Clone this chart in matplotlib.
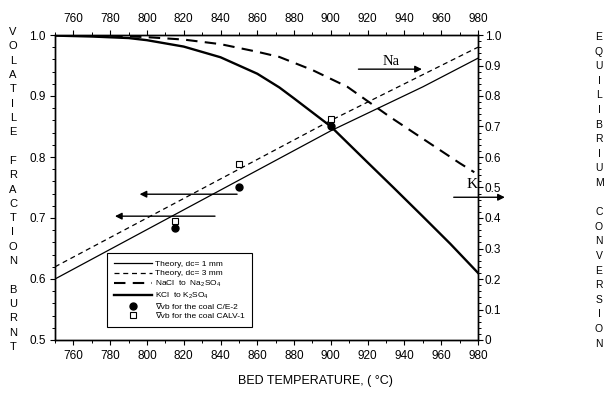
import matplotlib

matplotlib.use("Agg")
import matplotlib.pyplot as plt
from matplotlib.ticker import FuncFormatter, MultipleLocator

# theory curves, volatile fraction burnt (left axis)
temp_dc1 = [750, 800, 850, 900, 950, 980]
burnt_dc1 = [0.600, 0.681, 0.762, 0.843, 0.915, 0.962]
temp_dc3 = [750, 800, 850, 900, 950, 980]
burnt_dc3 = [0.620, 0.700, 0.780, 0.860, 0.935, 0.980]

# equilibrium conversion (right axis)
temp_na = [750, 780, 800, 820, 840, 860, 872, 890, 909, 932, 950, 970, 978]
conv_na = [1.0, 0.998, 0.993, 0.985, 0.970, 0.945, 0.928, 0.885, 0.830, 0.732, 0.660, 0.580, 0.550]
temp_k = [750, 770, 790, 800, 820, 840, 860, 872, 880, 900, 920, 934, 950, 965, 980]
conv_k = [0.998, 0.995, 0.990, 0.983, 0.962, 0.927, 0.873, 0.828, 0.792, 0.700, 0.582, 0.500, 0.405, 0.315, 0.220]

# measured points
temp_ce2 = [815, 850, 900]
burnt_ce2 = [0.684, 0.751, 0.851]
temp_calv = [815, 850, 900]
burnt_calv = [0.695, 0.789, 0.862]

# arrows (start temp, end temp, level on left axis)
left_arrows = [(849, 796, 0.739), (837, 782.6, 0.703)]
na_arrow = (915, 949.5, 0.944)
k_arrow = (966.8, 994.6, 0.734)

plt.rcParams["font.family"] = ["Liberation Sans", "DejaVu Sans"]
plt.rcParams["mathtext.default"] = "regular"

fig = plt.figure(figsize=(6.05, 3.98), dpi=100)
ax = fig.add_axes([55 / 605, 1 - 340 / 398, 423 / 605, 305 / 398])
ax2 = ax.twinx()

l1, = ax.plot(temp_dc1, burnt_dc1, color="black", lw=0.9, label="Theory, dc= 1 mm")
l2, = ax.plot(temp_dc3, burnt_dc3, color="black", lw=0.9, dashes=(4, 3), label="Theory, dc= 3 mm")
l3, = ax2.plot(temp_na, conv_na, color="black", lw=1.5, dashes=(5.5, 3.5), label="NaCl  to  Na$_2$SO$_4$")
l4, = ax2.plot(temp_k, conv_k, color="black", lw=1.7, label="KCl  to K$_2$SO$_4$")
p1, = ax.plot(temp_ce2, burnt_ce2, "o", color="black", ms=5, ls="none", label="∇vb for the coal C/E-2")
p2, = ax.plot(temp_calv, burnt_calv, "s", mfc="white", mec="black", mew=0.8, ms=5, ls="none",
              label="∇vb for the coal CALV-1")

arrow_kw = dict(arrowstyle="-|>", color="black", lw=1.0, mutation_scale=10, shrinkA=0, shrinkB=0)
for t0, t1, lev in left_arrows:
    ax.annotate("", xy=(t1, lev), xytext=(t0, lev), arrowprops=arrow_kw)
ax.annotate("", xy=(na_arrow[1], na_arrow[2]), xytext=(na_arrow[0], na_arrow[2]), arrowprops=arrow_kw)
ax.annotate("", xy=(k_arrow[1], k_arrow[2]), xytext=(k_arrow[0], k_arrow[2]), arrowprops=arrow_kw,
            annotation_clip=False)
ax.text(933, 0.957, "Na", family="Liberation Serif", fontsize=10.5, ha="center", va="center")
ax.text(977, 0.755, "K", family="Liberation Serif", fontsize=11, ha="center", va="center")

ax.set_xlim(750, 980)
ax.set_ylim(0.5, 1.0)
ax2.set_ylim(0, 1.0)
ax.xaxis.set_major_locator(MultipleLocator(20))
ax.xaxis.set_minor_locator(MultipleLocator(10))
ax.yaxis.set_major_locator(MultipleLocator(0.1))
ax.yaxis.set_minor_locator(MultipleLocator(0.02))
ax2.yaxis.set_major_locator(MultipleLocator(0.1))
ax2.yaxis.set_minor_locator(MultipleLocator(0.02))
ax2.yaxis.set_major_formatter(FuncFormatter(lambda v, p: "0" if abs(v) < 1e-9 else f"{v:.1f}"))

ax.tick_params(axis="x", which="both", top=True, labeltop=True, direction="out")
ax.tick_params(which="major", length=3.5, width=0.8, labelsize=8.5)
ax.tick_params(which="minor", length=2, width=0.7)
ax.tick_params(axis="x", which="major", pad=4)
ax.tick_params(axis="y", which="major", pad=3)
ax2.tick_params(which="major", length=3.5, width=0.8, labelsize=8.5, pad=1.5)
ax2.tick_params(which="minor", length=2, width=0.7)
for a in (ax, ax2):
    for s in a.spines.values():
        s.set_linewidth(1.0)

leg = ax2.legend([l1, l2, l3, l4, p1, p2], [h.get_label() for h in (l1, l2, l3, l4, p1, p2)],
                 loc="upper left", bbox_to_anchor=(0.123, 0.285), fontsize=6.0,
                 frameon=True, fancybox=False, edgecolor="black", framealpha=1,
                 handlelength=4.5, handletextpad=0.45, labelspacing=0.2, borderpad=0.85,
                 borderaxespad=0)
leg.get_frame().set_linewidth(0.8)

fig.text(315 / 605, 1 - 381 / 398, "BED TEMPERATURE, ( °C)", ha="center", va="center", fontsize=9)

left_label = "VOLATILE FRACTION BURNT"
for i, ch in enumerate(left_label):
    fig.text(13 / 605, 1 - (32 + i * 14.32) / 398, ch, ha="center", va="center", fontsize=8)
right_label = "EQUILIBRIUM CONVERSION"
for i, ch in enumerate(right_label):
    fig.text(599 / 605, 1 - (37 + i * 14.6) / 398, ch, ha="center", va="center", fontsize=7.5)

fig.savefig("out.png", dpi=100)
